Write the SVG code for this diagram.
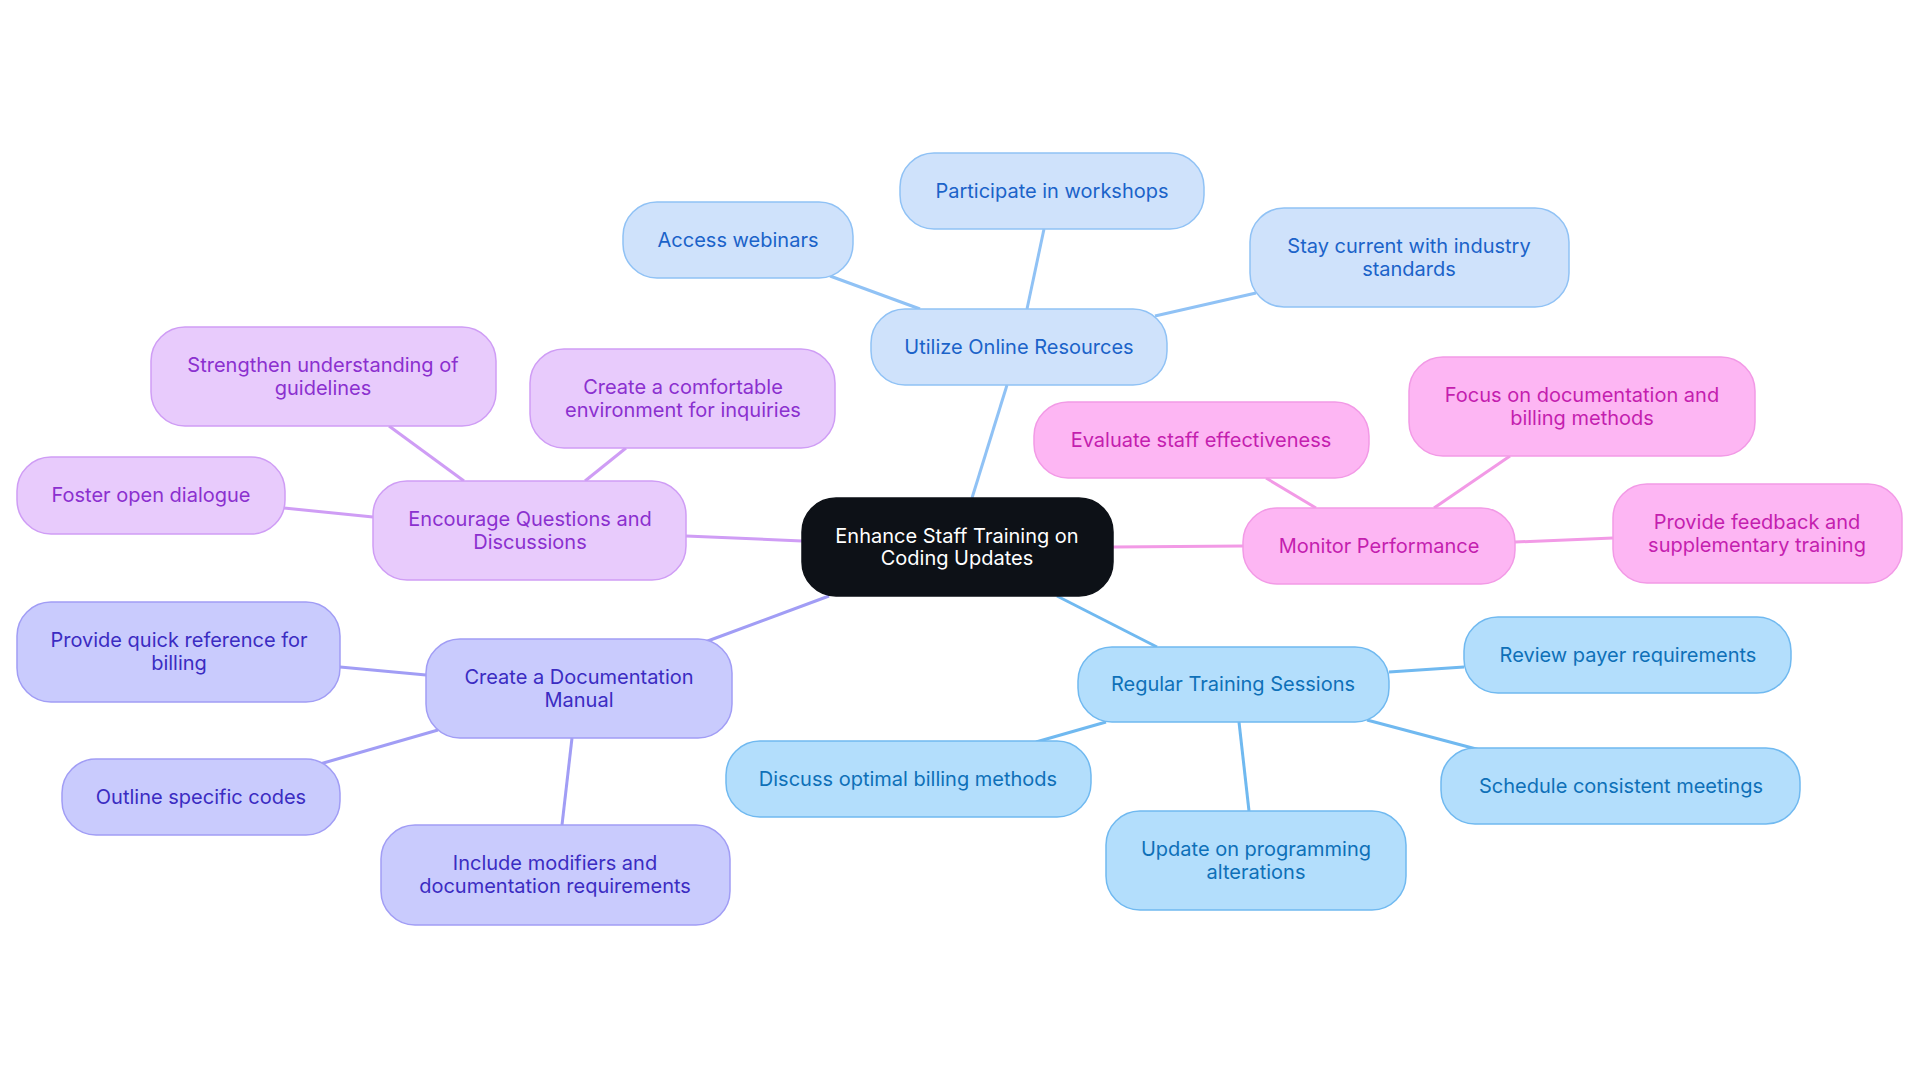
<svg xmlns="http://www.w3.org/2000/svg" width="1920" height="1083" viewBox="0 0 1920 1083">
<style>
text{font-family:Inter,"Liberation Sans",sans-serif;font-size:20px;text-anchor:middle;dominant-baseline:central}
.c{stroke-width:1.5}
.b rect{fill:#cfe2fb;stroke:#90c2f5}.b text{fill:#1b63c9}
.p rect{fill:#fdb6f3;stroke:#f29ae6}.p text{fill:#c41eaf}
.r rect{fill:#b3defc;stroke:#70b9f0}.r text{fill:#0e70b8}
.d rect{fill:#c9cbfd;stroke:#a19df5}.d text{fill:#3b2cc2}
.e rect{fill:#e8cbfc;stroke:#cf9df5}.e text{fill:#8b30cf}
rect{stroke-width:1.5}
line{stroke-width:3}
</style>
<rect width="1920" height="1083" fill="#fff"/>
<g id="connectors">
<g stroke="#90c2f5"><line x1="972" y1="498" x2="1007" y2="385"/><line x1="920" y1="309" x2="830" y2="276"/><line x1="1027" y1="309" x2="1044" y2="229"/><line x1="1155" y1="316" x2="1256" y2="293"/></g>
<g stroke="#f29ae6"><line x1="1113" y1="547" x2="1243" y2="546"/><line x1="1316" y1="508" x2="1266" y2="478"/><line x1="1434" y1="508" x2="1510" y2="456"/><line x1="1515" y1="542" x2="1613" y2="538"/></g>
<g stroke="#70b9f0"><line x1="1057" y1="596" x2="1157" y2="647"/><line x1="1389" y1="672" x2="1464" y2="667"/><line x1="1367" y1="720" x2="1480" y2="750"/><line x1="1239" y1="722" x2="1249" y2="811"/><line x1="1106" y1="722" x2="1036" y2="742"/></g>
<g stroke="#a19df5"><line x1="829" y1="596" x2="705" y2="642"/><line x1="426" y1="675" x2="340" y2="667"/><line x1="438" y1="730" x2="320" y2="764"/><line x1="572" y1="738" x2="562" y2="825"/></g>
<g stroke="#cf9df5"><line x1="802" y1="541" x2="686" y2="536"/><line x1="464" y1="481" x2="389" y2="426"/><line x1="585" y1="481" x2="626" y2="448"/><line x1="373" y1="517" x2="284" y2="508"/></g>
</g>
<g id="center"><rect x="802" y="498" width="311" height="98" rx="34" fill="#0d1117" stroke="#0d1117"/><text x="957" y="536" fill="#fff">Enhance Staff Training on</text><text x="957" y="558" fill="#fff">Coding Updates</text></g>
<g id="utilize" class="b"><rect x="871" y="309" width="296" height="76" rx="34"/><text x="1019" y="347">Utilize Online Resources</text></g>
<g id="webinars" class="b"><rect x="623" y="202" width="230" height="76" rx="34"/><text x="738" y="240">Access webinars</text></g>
<g id="workshops" class="b"><rect x="900" y="153" width="304" height="76" rx="34"/><text x="1052" y="191">Participate in workshops</text></g>
<g id="stay" class="b"><rect x="1250" y="208" width="319" height="99" rx="34"/><text x="1409" y="246">Stay current with industry</text><text x="1409" y="269">standards</text></g>
<g id="monitor" class="p"><rect x="1243" y="508" width="272" height="76" rx="34"/><text x="1379" y="546">Monitor Performance</text></g>
<g id="evaluate" class="p"><rect x="1034" y="402" width="335" height="76" rx="34"/><text x="1201" y="440">Evaluate staff effectiveness</text></g>
<g id="focus" class="p"><rect x="1409" y="357" width="346" height="99" rx="34"/><text x="1582" y="395">Focus on documentation and</text><text x="1582" y="418">billing methods</text></g>
<g id="feedback" class="p"><rect x="1613" y="484" width="289" height="99" rx="34"/><text x="1757" y="522">Provide feedback and</text><text x="1757" y="545">supplementary training</text></g>
<g id="regular" class="r"><rect x="1078" y="647" width="311" height="75" rx="34"/><text x="1233" y="684">Regular Training Sessions</text></g>
<g id="payer" class="r"><rect x="1464" y="617" width="327" height="76" rx="34"/><text x="1628" y="655">Review payer requirements</text></g>
<g id="schedule" class="r"><rect x="1441" y="748" width="359" height="76" rx="34"/><text x="1621" y="786">Schedule consistent meetings</text></g>
<g id="update" class="r"><rect x="1106" y="811" width="300" height="99" rx="34"/><text x="1256" y="849">Update on programming</text><text x="1256" y="872">alterations</text></g>
<g id="discuss" class="r"><rect x="726" y="741" width="365" height="76" rx="34"/><text x="908" y="779">Discuss optimal billing methods</text></g>
<g id="manual" class="d"><rect x="426" y="639" width="306" height="99" rx="34"/><text x="579" y="677">Create a Documentation</text><text x="579" y="700">Manual</text></g>
<g id="quickref" class="d"><rect x="17" y="602" width="323" height="100" rx="34"/><text x="179" y="640">Provide quick reference for</text><text x="179" y="663">billing</text></g>
<g id="outline" class="d"><rect x="62" y="759" width="278" height="76" rx="34"/><text x="201" y="797">Outline specific codes</text></g>
<g id="include" class="d"><rect x="381" y="825" width="349" height="100" rx="34"/><text x="555" y="863">Include modifiers and</text><text x="555" y="886">documentation requirements</text></g>
<g id="encourage" class="e"><rect x="373" y="481" width="313" height="99" rx="34"/><text x="530" y="519">Encourage Questions and</text><text x="530" y="542">Discussions</text></g>
<g id="strengthen" class="e"><rect x="151" y="327" width="345" height="99" rx="34"/><text x="323" y="365">Strengthen understanding of</text><text x="323" y="388">guidelines</text></g>
<g id="comfortable" class="e"><rect x="530" y="349" width="305" height="99" rx="34"/><text x="683" y="387">Create a comfortable</text><text x="683" y="410">environment for inquiries</text></g>
<g id="foster" class="e"><rect x="17" y="457" width="268" height="77" rx="34"/><text x="151" y="495">Foster open dialogue</text></g>
</svg>
